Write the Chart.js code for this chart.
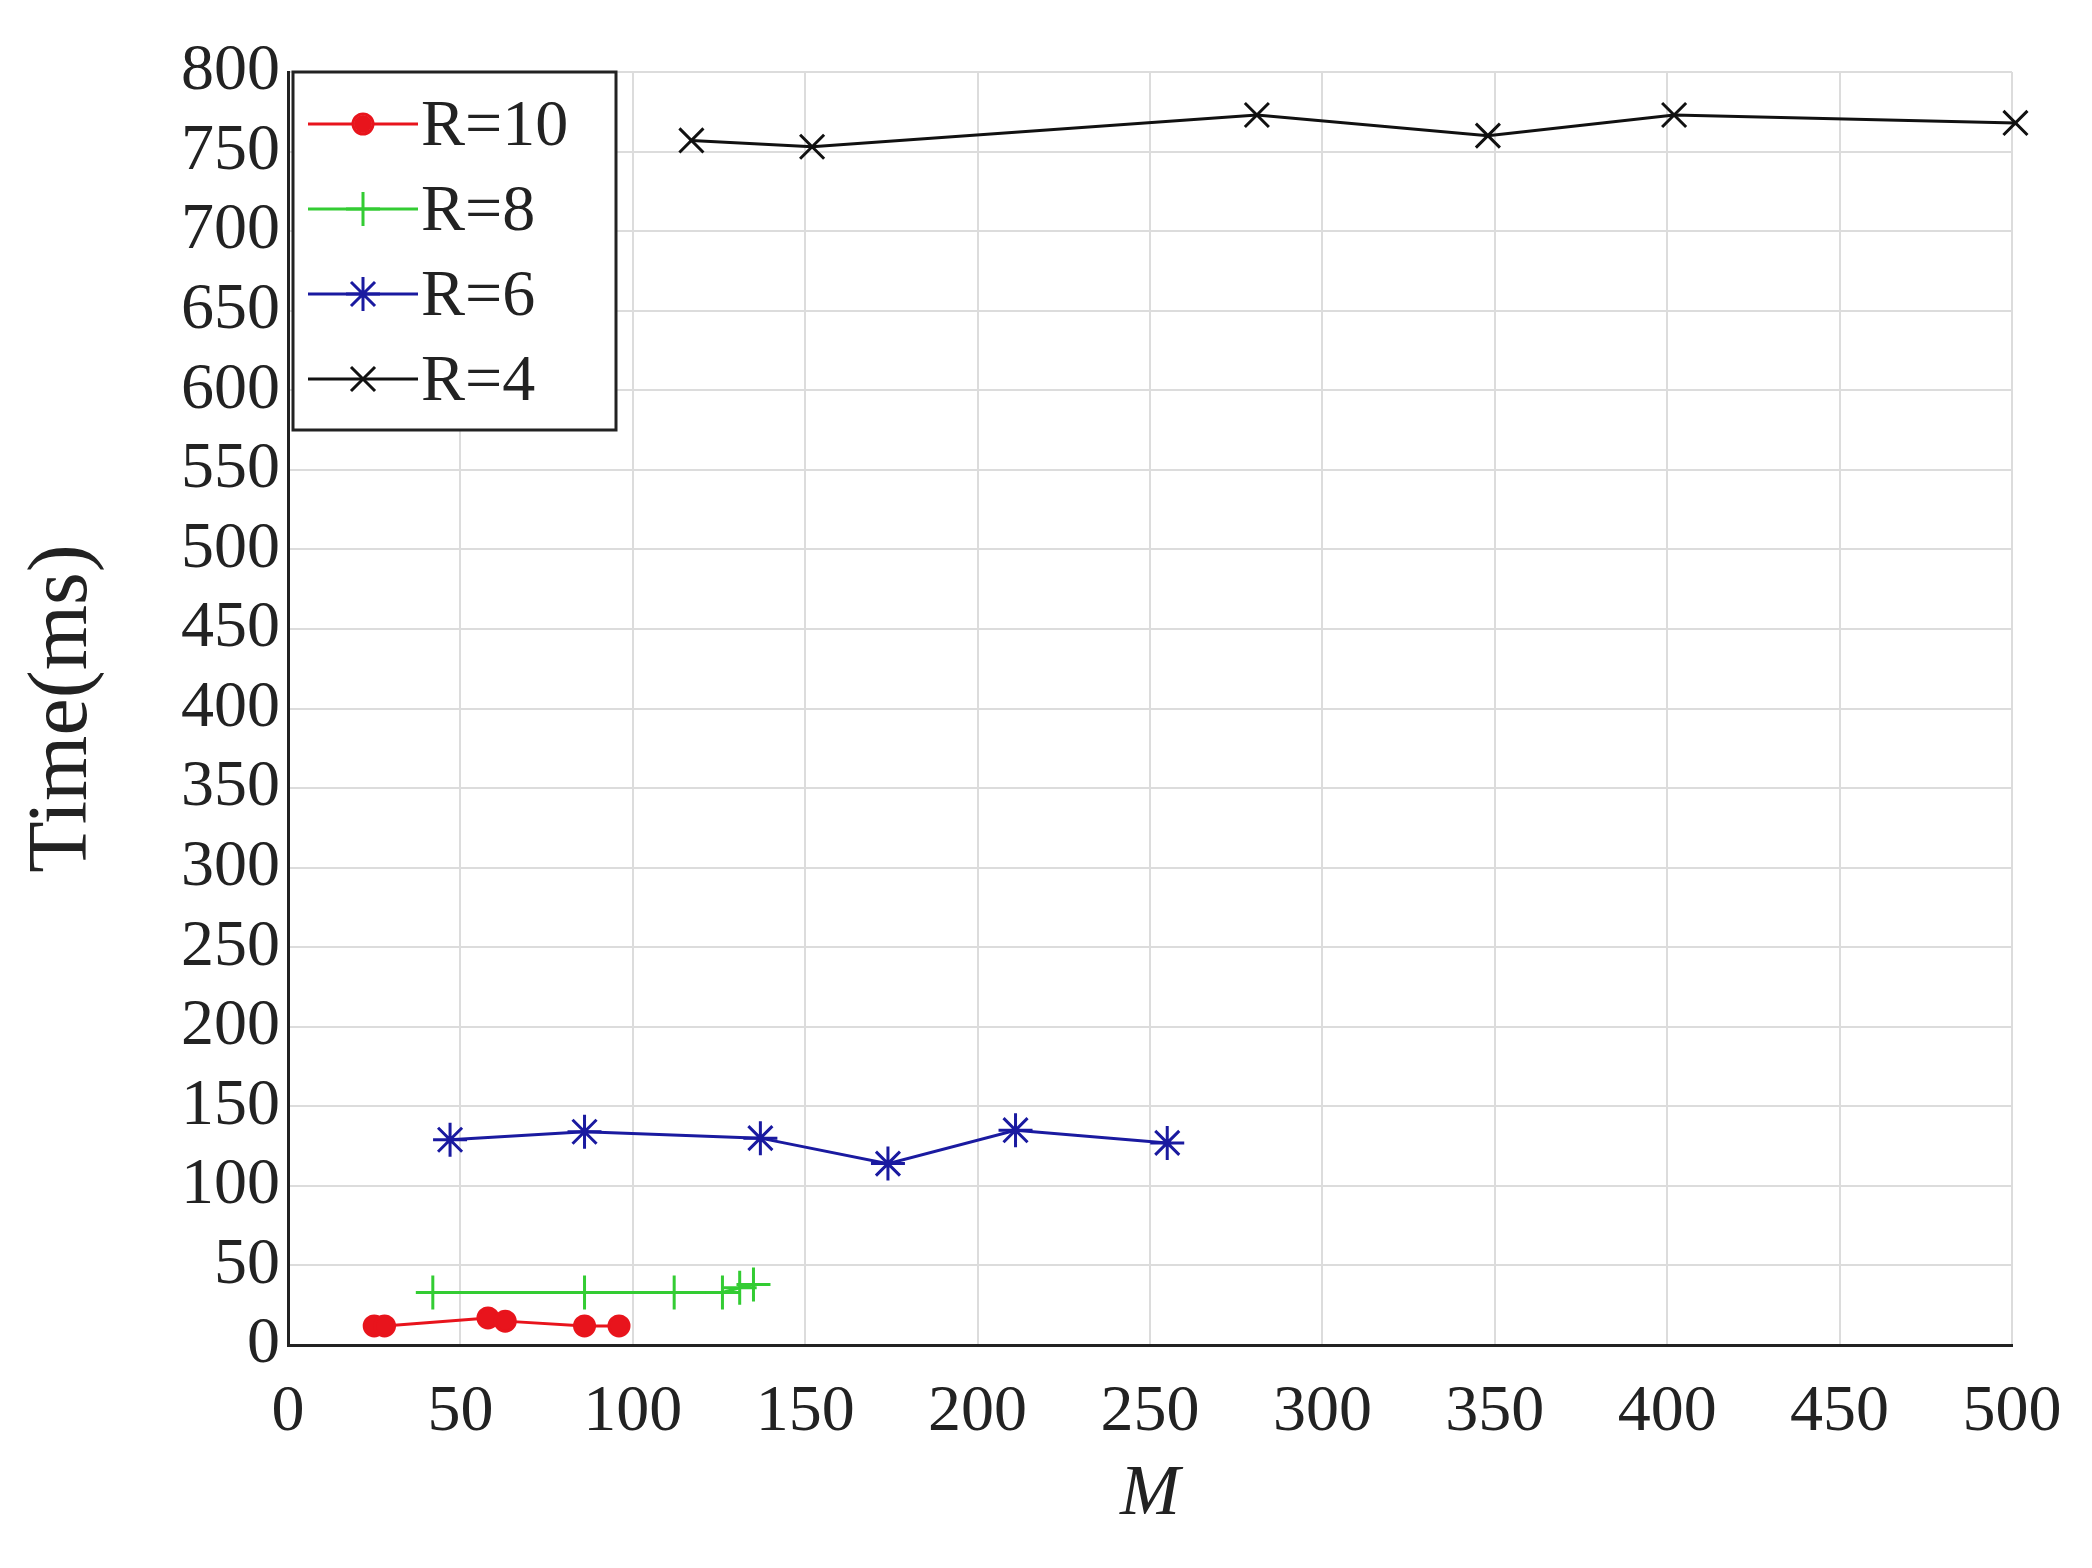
<!DOCTYPE html>
<html><head><meta charset="utf-8">
<script src="https://cdn.jsdelivr.net/npm/chart.js@4/dist/chart.umd.min.js"></script>
<style>html,body{margin:0;padding:0;background:#fff}#w{width:2092px;height:1568px}</style>
</head><body><div id="w"><canvas id="c"></canvas></div>
<script>
const labels = ["R=10","R=8","R=6","R=4"];
const r10x = [25,28,58,63,86,96], r10y = [12,12,17,15,12,12];
const r8x = [42,86,112,126,131,135], r8y = [33,33,33,33,36,38];
const r6x = [47,86,137,174,211,255], r6y = [129,134,130,114,135,127];
const r4x = [117,152,281,348,402,501], r4y = [757,753,773,760,773,768];
const colors = ["#e8141c","#33cc33","#1a1aa0","#111111"];
const styles = ["circle","cross","star","crossRot"];
const xs=[r10x,r8x,r6x,r4x], ys=[r10y,r8y,r6y,r4y];
const F="'Liberation Serif','Times New Roman',serif";
const datasets = labels.map((l,i)=>({label:l,data:xs[i].map((x,j)=>({x,y:ys[i][j]})),
  borderColor:colors[i],backgroundColor:colors[i],borderWidth:3,pointStyle:styles[i],
  pointRadius:i===0?10:17,pointBorderWidth:3,showLine:true,fill:false,tension:0,clip:false}));
const legendPlugin={id:'lg',afterDraw(ch){const c=ch.ctx,a=ch.chartArea;
  const x0=a.left+5,y0=a.top+0,w=323,h=358;c.save();
  c.fillStyle='#fff';c.fillRect(x0,y0,w,h);c.strokeStyle='#222';c.lineWidth=3;c.strokeRect(x0,y0,w,h);
  ch.data.datasets.forEach((d,i)=>{const y=y0+52+i*85;c.strokeStyle=d.borderColor;c.lineWidth=3;
    c.beginPath();c.moveTo(x0+15,y);c.lineTo(x0+125,y);c.stroke();
    Chart.helpers.drawPoint(c,{pointStyle:d.pointStyle,radius:d.pointRadius,borderWidth:3},x0+70,y);
    c.fillStyle=d.borderColor; if(i===0){c.beginPath();c.arc(x0+70,y,9,0,Math.PI*2);c.fill();}
    c.fillStyle='#222';c.font='66px '+F;c.textBaseline='middle';c.fillText(d.label,x0+128,y+4);});
  c.restore();}};
new Chart(document.getElementById('c'),{type:'scatter',data:{datasets},plugins:[legendPlugin],
 options:{responsive:true,maintainAspectRatio:false,animation:false,
  layout:{padding:{top:72,right:80,bottom:30,left:10}},
  plugins:{legend:{display:false},tooltip:{enabled:false}},
  scales:{
   x:{type:'linear',min:0,max:500,ticks:{stepSize:50,autoSkip:false,maxRotation:0,color:'#222',font:{family:F,size:66},padding:28},
     grid:{color:'#dcdcdc',lineWidth:2,drawTicks:false},border:{color:'#222',width:3},
     title:{display:true,text:'M',color:'#222',font:{family:F,size:72,style:'italic'},padding:0},
     afterFit(s){s.height=193;}},
   y:{min:0,max:800,ticks:{stepSize:50,autoSkip:false,color:'#222',font:{family:F,size:66},padding:8},
     grid:{color:'#dcdcdc',lineWidth:2,drawTicks:false},border:{color:'#222',width:3},
     title:{display:true,text:'Time(ms)',color:'#222',font:{family:F,size:84},padding:4},
     afterFit(s){s.width=278;}}
  }}});
</script></body></html>
